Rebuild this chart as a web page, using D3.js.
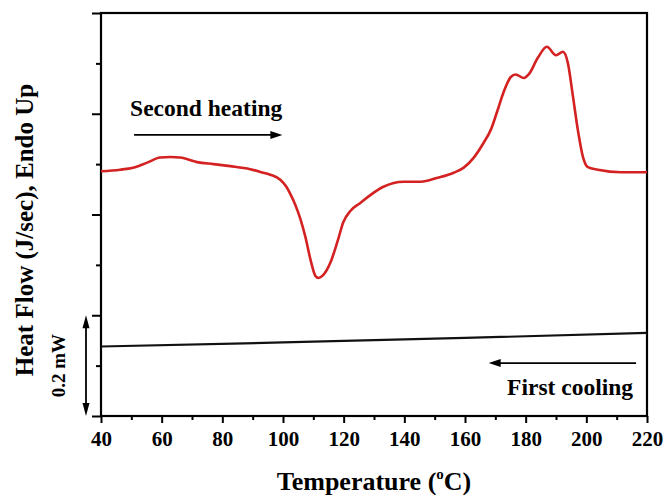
<!DOCTYPE html>
<html>
  <head>
    <meta charset="utf-8">
    <script src="https://d3js.org/d3.v7.min.js"></script>
    <style>
      body { margin: 0; background: white; }
      text { font-family: "Liberation Serif", "Times New Roman", serif; font-weight: bold; }
    </style>
  </head>
  <body>
    <div id="chart"></div>
    <script>
        // second heating trace (temperature in C, heat flow in mW, arbitrary offset)
        var heatT = [40, 46.3, 50.6, 55.2, 59.5, 62.8, 66.1, 71.7, 77.0, 82.6, 89.2, 93.5, 95.8, 99.1,
                     101.0, 102.4, 104.0, 105.7, 107.4, 109.0, 110.7, 111.7, 113.3, 115.6, 118.0, 119.9, 122.2, 125.5,
                     128.9, 133.1, 139.8, 145.4, 151.0, 156.3, 159.6, 162.9, 166.2, 168.5, 170.8, 172.8,
                     175.1, 176.7, 179.4, 181.0, 184.0, 187.0, 190.0, 192.3, 193.9, 195.6, 197.2, 198.9,
                     200.5, 203.8, 211.4, 220]
        var heatFlow = [0.486, 0.489, 0.493, 0.503, 0.513, 0.514, 0.513, 0.504, 0.500, 0.496, 0.490, 0.483, 0.479, 0.469,
                        0.456, 0.441, 0.420, 0.392, 0.355, 0.312, 0.278, 0.274, 0.280, 0.304, 0.347, 0.385, 0.407, 0.423,
                        0.439, 0.455, 0.465, 0.465, 0.473, 0.483, 0.493, 0.513, 0.543, 0.568, 0.608, 0.644,
                        0.673, 0.678, 0.671, 0.678, 0.711, 0.733, 0.716, 0.723, 0.701, 0.634, 0.568, 0.514,
                        0.494, 0.489, 0.484, 0.484]
        // first cooling trace
        var coolT = [40, 100, 160, 220]
        var coolFlow = [0.138, 0.146, 0.155, 0.165]

        var xMajor = [40, 60, 80, 100, 120, 140, 160, 180, 200, 220]
        var xMinor = [50, 70, 90, 110, 130, 150, 170, 190, 210]
        var yMajor = [0, 0.2, 0.4, 0.6, 0.8]
        var yMinor = [0.1, 0.3, 0.5, 0.7]

        var width = 663, height = 495
        var m = {left: 101, right: 16, top: 13, bottom: 79}

        var x = d3.scaleLinear().domain([40, 220]).range([m.left, width - m.right])
        var y = d3.scaleLinear().domain([0, 0.8]).range([height - m.bottom, m.top])

        var svg = d3.select("#chart").append("svg")
            .attr("width", width)
            .attr("height", height)

        // x axis, major + minor ticks
        var gx = svg.append("g").attr("transform", "translate(0," + y(0) + ")")
        gx.call(d3.axisBottom(x).tickValues(xMajor).tickSize(7).tickPadding(8).tickFormat(d3.format("d")))
        gx.append("g").call(d3.axisBottom(x).tickValues(xMinor).tickSize(4).tickFormat(""))
        gx.selectAll(".domain").remove()
        gx.selectAll("line").attr("stroke", "black").attr("stroke-width", 2)
        gx.selectAll("text").attr("font-size", 21).attr("fill", "black")
            .attr("font-family", "Liberation Serif").attr("font-weight", "bold")

        // y axis, no labels
        var gy = svg.append("g").attr("transform", "translate(" + x(40) + ",0)")
        gy.call(d3.axisLeft(y).tickValues(yMajor).tickSize(9).tickFormat(""))
        gy.append("g").call(d3.axisLeft(y).tickValues(yMinor).tickSize(5).tickFormat(""))
        gy.selectAll(".domain").remove()
        gy.selectAll("line").attr("stroke", "black").attr("stroke-width", 2)

        // frame
        svg.append("rect")
            .attr("x", x(40)).attr("y", y(0.8))
            .attr("width", x(220) - x(40)).attr("height", y(0) - y(0.8))
            .attr("fill", "none").attr("stroke", "black").attr("stroke-width", 2.2)

        var line = d3.line().x(function(d){ return x(d[0]) }).y(function(d){ return y(d[1]) })

        svg.append("path")
            .datum(coolT.map(function(t, i){ return [t, coolFlow[i]] }))
            .attr("d", line.curve(d3.curveLinear))
            .attr("fill", "none").attr("stroke", "#111").attr("stroke-width", 2.2)

        svg.append("path")
            .datum(heatT.map(function(t, i){ return [t, heatFlow[i]] }))
            .attr("d", line.curve(d3.curveMonotoneX))
            .attr("fill", "none").attr("stroke", "#d42121").attr("stroke-width", 2.6)
            .attr("stroke-linejoin", "round")

        // arrows
        function arrow(x1, y1, x2, y2) {
            var ang = Math.atan2(y2 - y1, x2 - x1), len = 12, w = 4
            svg.append("line").attr("x1", x1).attr("y1", y1)
                .attr("x2", x2 - Math.cos(ang) * len * 0.6).attr("y2", y2 - Math.sin(ang) * len * 0.6)
                .attr("stroke", "black").attr("stroke-width", 1.8)
            var bx = x2 - Math.cos(ang) * len, by = y2 - Math.sin(ang) * len
            svg.append("path")
                .attr("d", "M" + x2 + "," + y2
                    + "L" + (bx - Math.sin(ang) * w) + "," + (by + Math.cos(ang) * w)
                    + "L" + (bx + Math.sin(ang) * w) + "," + (by - Math.cos(ang) * w) + "Z")
                .attr("fill", "black")
        }

        svg.append("text").text("Second heating")
            .attr("x", x(49.6)).attr("y", y(0.595))
            .attr("font-size", 23.5)
        arrow(x(50.9), y(0.558), x(99.8), y(0.558))

        arrow(x(216.4), y(0.105), x(167.8), y(0.105))
        svg.append("text").text("First cooling")
            .attr("x", x(215.4)).attr("y", y(0.041))
            .attr("text-anchor", "end")
            .attr("font-size", 23.5)

        // 0.2 mW scale bar
        var sbx = 86
        svg.append("line").attr("x1", sbx).attr("x2", sbx)
            .attr("y1", y(0.2) + 10).attr("y2", y(0) - 10)
            .attr("stroke", "black").attr("stroke-width", 1.8)
        svg.append("path").attr("d", "M" + sbx + "," + y(0.2) + "l-3.5,13l7,0Z").attr("fill", "black")
        svg.append("path").attr("d", "M" + sbx + "," + y(0) + "l-3.5,-13l7,0Z").attr("fill", "black")
        svg.append("text").text("0.2 mW")
            .attr("transform", "translate(65," + y(0.1) + ") rotate(-90)")
            .attr("text-anchor", "middle")
            .attr("font-size", 19)

        // axis titles
        svg.append("text").text("Heat Flow (J/sec), Endo Up")
            .attr("transform", "translate(33," + 230 + ") rotate(-90)")
            .attr("text-anchor", "middle")
            .attr("font-size", 25)

        var xt = svg.append("text")
            .attr("x", (x(40) + x(220)) / 2).attr("y", 490)
            .attr("text-anchor", "middle")
            .attr("font-size", 26)
        xt.append("tspan").text("Temperature (")
        xt.append("tspan").text("o").attr("font-size", 15).attr("dy", -11)
        xt.append("tspan").text("C)").attr("dy", 11)
    </script>
  </body>
</html>
